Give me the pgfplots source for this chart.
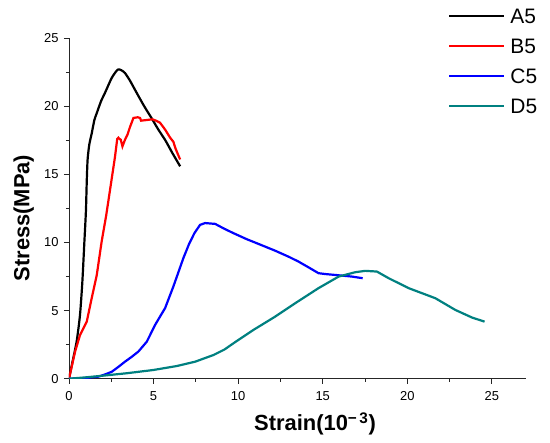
\documentclass[border=0pt]{standalone}
\usepackage{fontspec}
\setmainfont{Liberation Sans}
\usepackage{pgfplots}
\pgfplotsset{compat=1.18}
\definecolor{dcyan}{RGB}{0,128,128}
\begin{document}
\begin{tikzpicture}
\path[use as bounding box] (-69bp,-64.3bp) rectangle (481bp,378.7bp);
\begin{axis}[
  scale only axis, width=456.7bp, height=340.4bp,
  xmin=0, xmax=27, ymin=0, ymax=25,
  axis lines=left, axis line style={-, line width=0.9bp, black!85},
  xtick={0,5,...,25}, ytick={0,5,...,25},
  minor x tick num=1, minor y tick num=1,
  tick align=outside, major tick length=5bp, minor tick length=3bp,
  every tick/.style={line width=0.9bp, black!85},
  tick label style={font=\fontsize{13}{13}\selectfont},
  xticklabel style={yshift=-4bp},
  yticklabel style={xshift=-2bp},
  /pgf/number format/assume math mode=true,
  xlabel={Strain(10\textsuperscript{\char"2212\,3})},
  ylabel={Stress(MPa)},
  label style={font=\fontsize{22}{22}\selectfont\bfseries},
  xlabel style={at={(axis description cs:0.5386,0)}, anchor=base, yshift=-52bp},
  ylabel style={at={(axis description cs:0,0.472)}, anchor=base, yshift=39.7bp},
  legend style={at={(rel axis cs:0.8305,1.0884)}, anchor=north west, draw=none, fill=none,
    inner sep=0pt, outer sep=0pt, row sep=15bp, column sep=5bp,
    font=\fontsize{21}{21}\selectfont,
    nodes={inner sep=0pt, text height=15bp, text depth=0pt}},
  legend cell align=left,
  legend image code/.code={\draw[#1] (0bp,0bp) -- (55bp,0bp);},
  every axis plot/.append style={line width=2.2bp},
]
\addplot[black, smooth, tension=0.4] coordinates {
(0,0)(0.2,1.2)(0.45,2.72)(0.65,4.68)(0.79,7.13)(0.91,10.07)(1.0,12.3)(1.05,14.5)(1.1,16.1)(1.2,17.2)(1.34,18.0)(1.5,19.0)(1.64,19.5)(1.9,20.4)(2.13,21.0)(2.53,22.1)(2.88,22.7)(3.1,22.65)(3.31,22.45)(3.6,21.9)(3.91,21.2)(4.2,20.55)(4.5,19.9)(4.9,19.1)(5.28,18.3)(5.7,17.5)(6.1,16.6)(6.57,15.6)
};
\addlegendentry{A5}
\addplot[red] coordinates {
(0,0)(0.36,1.99)(0.65,3.2)(1.05,4.19)(1.34,5.9)(1.64,7.6)(1.93,10.07)(2.2,12.0)(2.43,13.9)(2.72,16.3)(2.85,17.6)(2.92,17.7)(3.0,17.6)(3.06,17.55)(3.16,17.06)(3.31,17.55)(3.45,17.9)(3.61,18.5)(3.81,19.15)(4.06,19.2)(4.2,19.15)(4.26,18.95)(4.6,19.0)(4.93,19.05)(5.15,18.95)(5.38,18.8)(5.68,18.3)(5.98,17.7)(6.17,17.4)(6.3,16.9)(6.4,16.6)(6.57,16.1)
};
\addlegendentry{B5}
\addplot[blue] coordinates {
(0,0)(0.8,0.03)(1.73,0.15)(2.1,0.3)(2.53,0.51)(2.9,0.85)(3.31,1.25)(3.7,1.6)(4.1,1.99)(4.6,2.72)(5.09,3.95)(5.4,4.6)(5.68,5.18)(6.17,6.77)(6.76,8.85)(7.1,9.9)(7.42,10.7)(7.75,11.3)(8.05,11.43)(8.64,11.37)(9.2,11.0)(9.72,10.69)(10.5,10.25)(11.3,9.85)(12.19,9.4)(13.0,8.95)(13.57,8.6)(14.2,8.15)(14.75,7.75)(15.2,7.68)(15.74,7.62)(16.73,7.5)(17.36,7.38)
};
\addlegendentry{C5}
\addplot[dcyan] coordinates {
(0,0)(1.0,0.1)(1.83,0.2)(3.41,0.4)(4.99,0.64)(6.37,0.93)(7.46,1.25)(8.54,1.74)(9.2,2.15)(9.72,2.6)(10.9,3.58)(12.19,4.56)(13.37,5.54)(14.75,6.65)(15.94,7.5)(16.92,7.82)(17.51,7.92)(18.2,7.87)(18.9,7.38)(20.08,6.65)(21.66,5.91)(22.84,5.05)(23.83,4.49)(24.57,4.19)
};
\addlegendentry{D5}
\end{axis}
\end{tikzpicture}
\end{document}
